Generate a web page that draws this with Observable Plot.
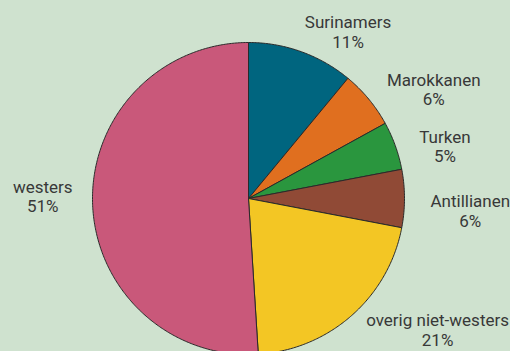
<!DOCTYPE html>
<html><head><meta charset="utf-8">
<script src="https://cdn.jsdelivr.net/npm/d3@7"></script>
<script src="https://cdn.jsdelivr.net/npm/@observablehq/plot@0.6"></script>
<style>html,body{margin:0;padding:0;background:#cfe2cf;overflow:hidden}</style>
</head><body><div id="chart"></div>
<script>
const categories = ["Surinamers","Marokkanen","Turken","Antillianen","overig niet-westers","westers"];
const shares = [11, 6, 5, 6, 21, 51];
const colors = ["#00657f","#e06f1f","#2a963e","#904a36","#f3c624","#c9587a"];

const W = 510, H = 351, cx = 248, cy = 198, R = 156;
const FONT = "Roboto", FS = 17, LH = 1.15;

const arcs = d3.pie().sort(null).value(d => d)(shares);
const slices = [];
arcs.forEach((p, i) => {
  const n = Math.max(2, Math.ceil((p.endAngle - p.startAngle) / 0.01));
  slices.push({cat: categories[i], x: 0, y: 0});
  for (let k = 0; k <= n; k++) {
    const a = p.startAngle + (p.endAngle - p.startAngle) * k / n;
    slices.push({cat: categories[i], x: Math.sin(a), y: Math.cos(a)});
  }
  slices.push({cat: categories[i], x: 0, y: 0});
});

const ctx = document.createElement("canvas").getContext("2d");
ctx.font = `${FS}px ${FONT}`;
const labelR = 190 / R;
const half = (FS * LH) / R;            // half the height of a two-line label
const yMin = -(H - cy) / R + half + 2 / R;
const yMax = cy / R - half - 2 / R;
const labels = arcs.map((p, i) => {
  const m = (p.startAngle + p.endAngle) / 2;
  const lines = [categories[i], shares[i] + "%"];
  const w = Math.max(...lines.map(t => ctx.measureText(t).width)) / R;
  const right = Math.sin(m) >= 0;
  const s = right ? 1 : -1;
  const ax = labelR * Math.sin(m) + (right ? -8 : 14) / R;
  const ay = labelR * Math.cos(m) - (right ? 12 : -8) / R;
  return {x: ax + s * w / 2, y: Math.max(yMin, Math.min(yMax, ay)), text: lines.join("\n")};
});

const chart = Plot.plot({
  width: W, height: H,
  margin: 0,
  x: {domain: [-cx / R, (W - cx) / R], axis: null},
  y: {domain: [-(H - cy) / R, cy / R], axis: null},
  color: {domain: categories, range: colors},
  style: {background: "#cfe2cf", fontFamily: FONT},
  marks: [
    Plot.line(slices, {x: "x", y: "y", z: "cat", fill: "cat", stroke: "#2a2a2a", strokeWidth: 1}),
    Plot.text(labels, {x: "x", y: "y", text: "text", textAnchor: "middle", lineAnchor: "middle",
      fontSize: FS, lineHeight: LH, fill: "#383838"})
  ]
});
document.getElementById("chart").appendChild(chart);
</script>
</body></html>
